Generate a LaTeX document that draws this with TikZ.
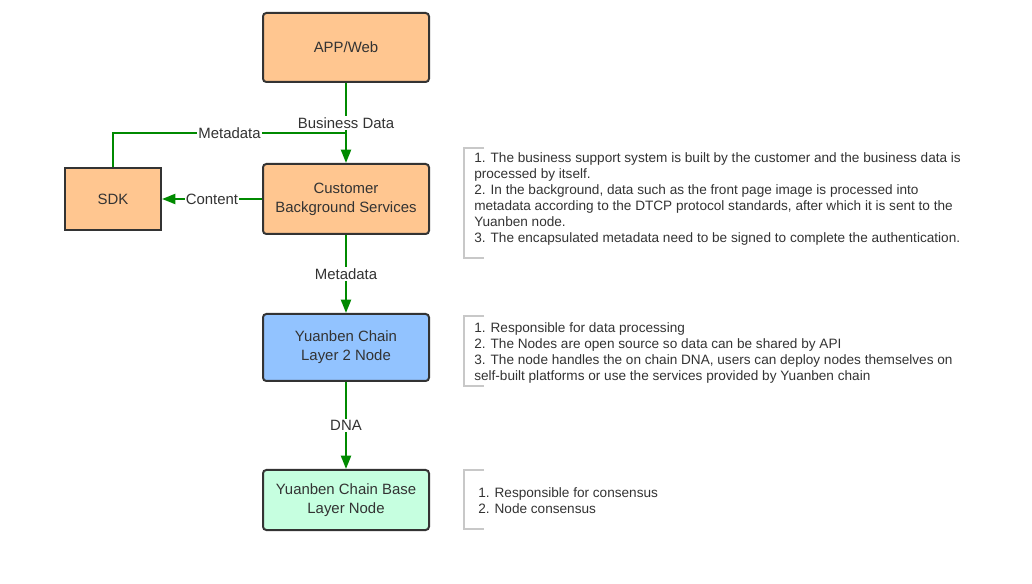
\documentclass[tikz,border=0pt]{standalone}
\usepackage{fontspec}
\setmainfont{Liberation Sans}
\usetikzlibrary{arrows.meta}
\definecolor{boxorange}{HTML}{FFC690}
\definecolor{boxblue}{HTML}{92C3FF}
\definecolor{boxgreen}{HTML}{C6FFE0}
\definecolor{flowgreen}{HTML}{008A00}
\definecolor{textgray}{HTML}{333333}
\definecolor{bracketgray}{HTML}{C8C8C8}

\begin{document}
\begin{tikzpicture}[x=0.75pt,y=-0.75pt,
 every node/.style={text=textgray,font=\fontsize{11.2}{14.3}\selectfont},
 block/.style={draw=textgray,line width=1.5pt,rounded corners=2.5pt,minimum width=124.5pt,align=center},
 flow/.style={draw=flowgreen,line width=1.5pt,-{Triangle[length=10pt,width=7.5pt]}},
 tag/.style={fill=white,inner sep=1pt},
 note/.style={anchor=north west,align=left,inner sep=0pt,font=\fontsize{10.2}{12}\selectfont},
 bracket/.style={draw=bracketgray,line width=1.2pt}]

\useasboundingbox (0,0) rectangle (1032,584);

 \node[block,fill=boxorange,minimum height=51.75pt] (app) at (346,47.5) {APP/Web};
 \node[block,fill=boxorange,minimum height=52.5pt] (cbs) at (346,199) {Customer\\Background Services};
 \node[block,fill=boxorange,rounded corners=0pt,minimum width=72pt,minimum height=47pt] (sdk) at (113,199) {SDK};
 \node[block,fill=boxblue,minimum height=50.25pt] (l2) at (346,347.5) {Yuanben Chain\\Layer 2 Node};
 \node[block,fill=boxgreen,minimum height=45pt] (base) at (346,500) {Yuanben Chain Base\\Layer Node};

 \coordinate (join) at (346,133);

\draw[flow] (app) -- node[tag]{Business Data} (cbs);
\draw[draw=flowgreen,line width=1.5pt] (sdk.north) |- node[tag,pos=0.75]{Metadata} (join);
\draw[flow] (cbs) -- node[tag]{Content} (sdk);
\draw[flow] (cbs) -- node[tag]{Metadata} (l2);
\draw[flow] (l2) -- node[tag]{DNA} (base);

 \node[note] (note1) at (474,152) {1. The business support system is built by the customer and the business data is\\
 processed by itself.\\
 2. In the background, data such as the front page image is processed into\\
 metadata according to the DTCP protocol standards, after which it is sent to the\\
 Yuanben node.\\
 3. The encapsulated metadata need to be signed to complete the authentication.};
 \node[note] (note2) at (474,322) {1. Responsible for data processing\\
 2. The Nodes are open source so data can be shared by API\\
 3. The node handles the on chain DNA, users can deploy nodes themselves on\\
 self-built platforms or use the services provided by Yuanben chain};
 \node[note] (note3) at (478,487) {1. Responsible for consensus\\
 2. Node consensus};

\draw[bracket] (484,148) -- (464,148) -- (464,258) -- (484,258);
\draw[bracket] (484,316) -- (464,316) -- (464,386) -- (484,386);
\draw[bracket] (484,470) -- (464,470) -- (464,529) -- (484,529);

\end{tikzpicture}
\end{document}
